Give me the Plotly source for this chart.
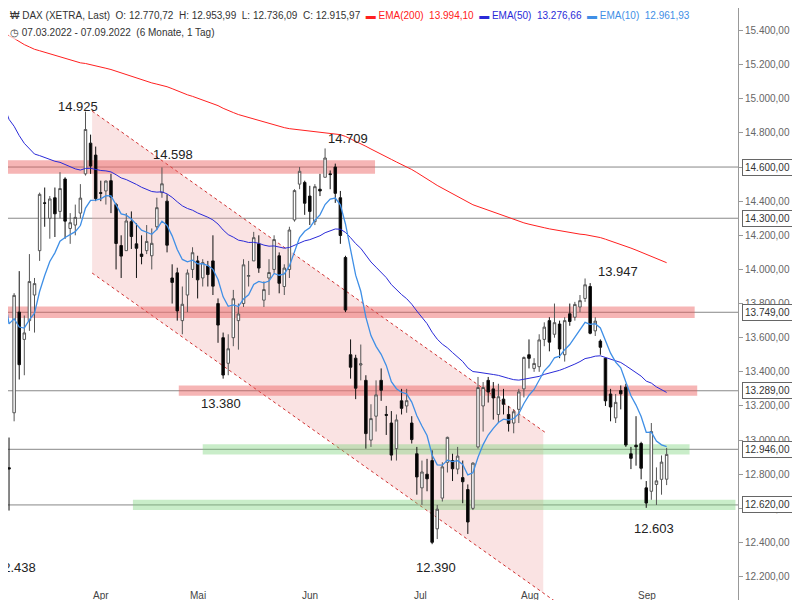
import plotly.graph_objects as go

dates = ["07.03","08.03","09.03","10.03","11.03","14.03","15.03","16.03","17.03","18.03","21.03","22.03","23.03","24.03","25.03","28.03","29.03","30.03","31.03",
"01.04","04.04","05.04","06.04","07.04","08.04","11.04","12.04","13.04","14.04","19.04","20.04","21.04","22.04","25.04","26.04","27.04","28.04","29.04",
"02.05","03.05","04.05","05.05","06.05","09.05","10.05","11.05","12.05","13.05","16.05","17.05","18.05","19.05","20.05","23.05","24.05","25.05","26.05","27.05","30.05","31.05",
"01.06","02.06","03.06","06.06","07.06","08.06","09.06","10.06","13.06","14.06","15.06","16.06","17.06","20.06","21.06","22.06","23.06","24.06","27.06","28.06","29.06","30.06",
"01.07","04.07","05.07","06.07","07.07","08.07","11.07","12.07","13.07","14.07","15.07","18.07","19.07","20.07","21.07","22.07","25.07","26.07","27.07","28.07","29.07",
"01.08","02.08","03.08","04.08","05.08","08.08","09.08","10.08","11.08","12.08","15.08","16.08","17.08","18.08","19.08","22.08","23.08","24.08","25.08","26.08","29.08","30.08","31.08",
"01.09","02.09","05.09","06.09","07.09"]

opens = [12960,12838,13160,13750,13590,13700,13850,14110,14390,14300,14420,14340,14530,14240,14260,14330,14560,14740,14670,
14450,14460,14520,14380,14140,14110,14280,14150,14090,14110,14080,14250,14450,14400,13950,13980,13700,13850,14000,
14050,13950,14020,14050,13800,13600,13450,13600,13700,13800,13960,14050,14150,13820,13950,14000,14080,13900,14000,14290,14500,14510,
14430,14280,14470,14540,14560,14600,14420,14070,13500,13480,13440,13350,13000,13140,13350,13150,13100,12950,13230,13200,13100,12920,
12720,12800,12880,12480,12660,12870,12880,12830,12780,12710,12600,12960,13200,13350,13300,13150,13240,13150,13100,13180,13300,
13500,13420,13430,13590,13700,13620,13680,13500,13740,13720,13780,13830,13900,13640,13580,13480,13270,13130,13290,13310,12920,12970,12980,
12720,12700,12740,12770,12770.72]
highs = [13130,13015,13861,13990,13730,14090,13950,14450,14480,14430,14480,14570,14540,14330,14380,14500,14925,14790,14720,
14520,14520,14560,14390,14200,14330,14340,14270,14200,14260,14240,14420,14598,14440,14030,14010,13900,14000,14130,
14080,14060,14050,14200,13830,13630,13620,13880,13800,14060,14050,14220,14200,13930,14060,14200,14100,14030,14250,14470,14600,14520,
14490,14500,14560,14709,14580,14620,14460,14080,13590,13500,13560,13380,13210,13350,13420,13200,13170,13150,13300,13300,13140,12960,
12880,12890,12940,12620,12870,13020,12920,12960,12880,12740,12870,13370,13340,13370,13340,13330,13300,13200,13180,13300,13490,
13590,13480,13620,13690,13720,13800,13700,13720,13800,13810,13850,13947,13920,13720,13590,13480,13300,13270,13320,13330,12960,13140,12990,
12760,13100,12840,12910,12953.99]
lows = [12439,12587,13110,13355,13380,13640,13630,14050,14250,14180,14190,14300,14180,14150,14200,14300,14550,14560,14400,
14400,14380,14330,14000,13950,14110,14120,13950,14030,14090,14000,14230,14420,14100,13800,13700,13620,13750,13950,
13830,13900,13900,13850,13570,13360,13380,13550,13530,13780,13900,14050,13980,13780,13850,13980,13860,13850,13950,14280,14470,14320,
14260,14260,14430,14540,14470,14390,14150,13750,13360,13240,13350,12950,12960,13050,13230,13030,12880,12880,13150,13160,12980,12680,
12620,12700,12390,12420,12640,12810,12760,12800,12630,12450,12590,12950,13050,13220,13120,13100,13150,13050,13040,13100,13250,
13420,13400,13400,13550,13520,13600,13480,13460,13670,13700,13750,13810,13620,13610,13500,13200,13110,13100,13180,12960,12830,12850,12770,
12603,12650,12620,12680,12736.09]
closes = [12835,12831,13848,13442,13628,13929,13917,14440,14388,14413,14326,14474,14283,14274,14305,14418,14820,14606,14415,
14446,14518,14424,14152,14078,14284,14193,14124,14076,14164,14153,14362,14502,14142,13924,13757,13796,13979,14098,
13939,14040,13970,13902,13674,13381,13535,13828,13739,14027,13964,14186,14008,13882,13982,14175,13919,14008,14231,14462,14575,14388,
14340,14485,14460,14653,14556,14446,14199,13762,13427,13304,13447,13038,13126,13265,13292,13145,12912,13118,13186,13231,13003,12784,
12813,12773,12401,12595,12843,13016,12832,12906,12756,12520,12865,13308,13308,13282,13247,13254,13210,13097,13166,13282,13484,
13479,13449,13587,13662,13574,13688,13534,13700,13695,13795,13817,13910,13626,13697,13544,13230,13194,13221,13271,12971,12893,12961,12835,
12631,13050,12761,12871,12915.97]

ema_seeds = {"EMA(200)": 15420, "EMA(50)": 15050, "EMA(10)": 14100}
ema_periods = {"EMA(200)": 200, "EMA(50)": 50, "EMA(10)": 10}
ema_colors = {"EMA(200)": "#ff2020", "EMA(50)": "#2a2ad8", "EMA(10)": "#3f8fe6"}

level_lines = [14600, 14300, 13749, 13289, 12946, 12620]
level_labels = ["14.600,00", "14.300,00", "13.749,00", "13.289,00", "12.946,00", "12.620,00"]
tick_vals = list(range(12200, 15401, 200))
tick_text = [f"{v//1000}.{v%1000:03d},00" for v in tick_vals]
months = ["Apr", "Mai", "Jun", "Jul", "Aug", "Sep"]
month_first = ["01.04", "02.05", "01.06", "01.07", "01.08", "01.09"]
zones = [(0.8, 72.8, 14560, 14640, "rgba(235,90,90,0.45)"),
         (0.8, 135.5, 13715, 13783, "rgba(235,90,90,0.45)"),
         (34.3, 136, 13260, 13320, "rgba(235,90,90,0.45)"),
         (39, 134.5, 12915, 12975, "rgba(120,210,120,0.4)"),
         (25.3, 143.5, 12590, 12650, "rgba(120,210,120,0.4)")]
channel_x = [17.3, 105.8, 105.8, 17.3]
channel_y = [14928, 13053, 12104, 13979]
peaks = [("14.925", 14.5, 14955), ("14.598", 33.2, 14675), ("14.709", 67.5, 14765),
         ("13.380", 42.6, 13215), ("12.390", 84.8, 12255), ("13.947", 120.4, 13985),
         ("12.603", 127.5, 12480), ("12.438", 2.4, 12255)]

x = list(range(len(dates)))
fig = go.Figure()

fig.add_shape(type="path", xref="x", yref="y", layer="below",
              path=f"M {channel_x[0]},{channel_y[0]} L {channel_x[1]},{channel_y[1]} L {channel_x[2]},{channel_y[2]} L {channel_x[3]},{channel_y[3]} Z",
              fillcolor="rgba(240,175,175,0.35)", line_width=0)
slope = (channel_y[1]-channel_y[0])/(channel_x[1]-channel_x[0])
fig.add_shape(type="line", x0=channel_x[0], y0=channel_y[0], x1=106.3, y1=channel_y[0]+slope*(106.3-channel_x[0]),
              line=dict(color="#d03030", width=1, dash="dot"), layer="below")
fig.add_shape(type="line", x0=channel_x[0], y0=channel_y[3], x1=114, y1=channel_y[3]+slope*(114-channel_x[0]),
              line=dict(color="#d03030", width=1, dash="dot"), layer="below")
for x0, x1, y0, y1, c in zones:
    fig.add_shape(type="rect", x0=x0, x1=x1, y0=y0, y1=y1, fillcolor=c, line_width=0, layer="below")
for lv, lb in zip(level_lines, level_labels):
    fig.add_shape(type="line", xref="paper", x0=0, x1=1, y0=lv, y1=lv, line=dict(color="#888", width=1), layer="below")
    fig.add_annotation(xref="paper", x=1.005, y=lv, text=lb, showarrow=False, xanchor="left",
                       font=dict(size=10, color="#333", family="Liberation Sans"), bgcolor="white",
                       bordercolor="#666", borderwidth=1, borderpad=2)

fig.add_trace(go.Candlestick(x=x, open=opens, high=highs, low=lows, close=closes,
                             increasing=dict(fillcolor="white", line=dict(color="#555", width=1)),
                             decreasing=dict(fillcolor="black", line=dict(color="#111", width=1)),
                             whiskerwidth=0, showlegend=False, hoverinfo="skip"))

for name in ["EMA(200)", "EMA(50)", "EMA(10)"]:
    a = 2/(ema_periods[name]+1)
    e = ema_seeds[name]; vals = []
    for c in closes:
        e = a*c + (1-a)*e
        vals.append(e)
    fig.add_trace(go.Scatter(x=x, y=vals, mode="lines", line=dict(color=ema_colors[name], width=1.3 if name=="EMA(10)" else 1),
                             showlegend=False, hoverinfo="skip"))

for t, px, py in peaks:
    fig.add_annotation(x=px, y=py, text=t, showarrow=False, font=dict(size=13, color="#222", family="Liberation Sans"))

for m, d in zip(months, month_first):
    fig.add_annotation(x=dates.index(d), y=0.0, yref="paper", yanchor="bottom", xanchor="left", yshift=5, xshift=-10,
                       text=m, showarrow=False, font=dict(size=10, color="#444", family="Liberation Sans"))

hdr = ("₩ DAX (XETRA, Last)  O: 12.770,72  H: 12.953,99  L: 12.736,09  C: 12.915,97  "
       "<span style='color:#ff2020'>▬ EMA(200)  13.994,10</span>  "
       "<span style='color:#2a2ad8'>▬ EMA(50)  13.276,66</span>  "
       "<span style='color:#3f8fe6'>▬ EMA(10)  12.961,93</span>")
fig.add_annotation(xref="paper", yref="paper", x=0.0, y=1.0, xanchor="left", yanchor="top", text=hdr,
                   showarrow=False, align="left", font=dict(size=10, color="#333", family="Liberation Sans"),
                   bgcolor="rgba(255,255,255,0.7)")
fig.add_annotation(xref="paper", yref="paper", x=0.0, y=0.972, xanchor="left", yanchor="top",
                   text="◷ 07.03.2022 - 07.09.2022  (6 Monate, 1 Tag)", showarrow=False,
                   font=dict(size=10, color="#333", family="Liberation Sans"), bgcolor="rgba(255,255,255,0.7)")

fig.update_layout(width=800, height=600, margin=dict(l=0, r=70, t=0, b=0),
                  plot_bgcolor="white", paper_bgcolor="white",
                  xaxis=dict(range=[0.8, 144.0], showgrid=False, showticklabels=False, zeroline=False,
                             rangeslider=dict(visible=False), fixedrange=True),
                  yaxis=dict(range=[12016, 15532], side="right", tickvals=tick_vals, ticktext=tick_text,
                             showgrid=False, zeroline=False, ticks="outside", ticklen=4, tickcolor="#999",
                             showline=True, linecolor="#999",
                             tickfont=dict(size=10, color="#666", family="Liberation Sans")))
fig.write_html("out.html")
